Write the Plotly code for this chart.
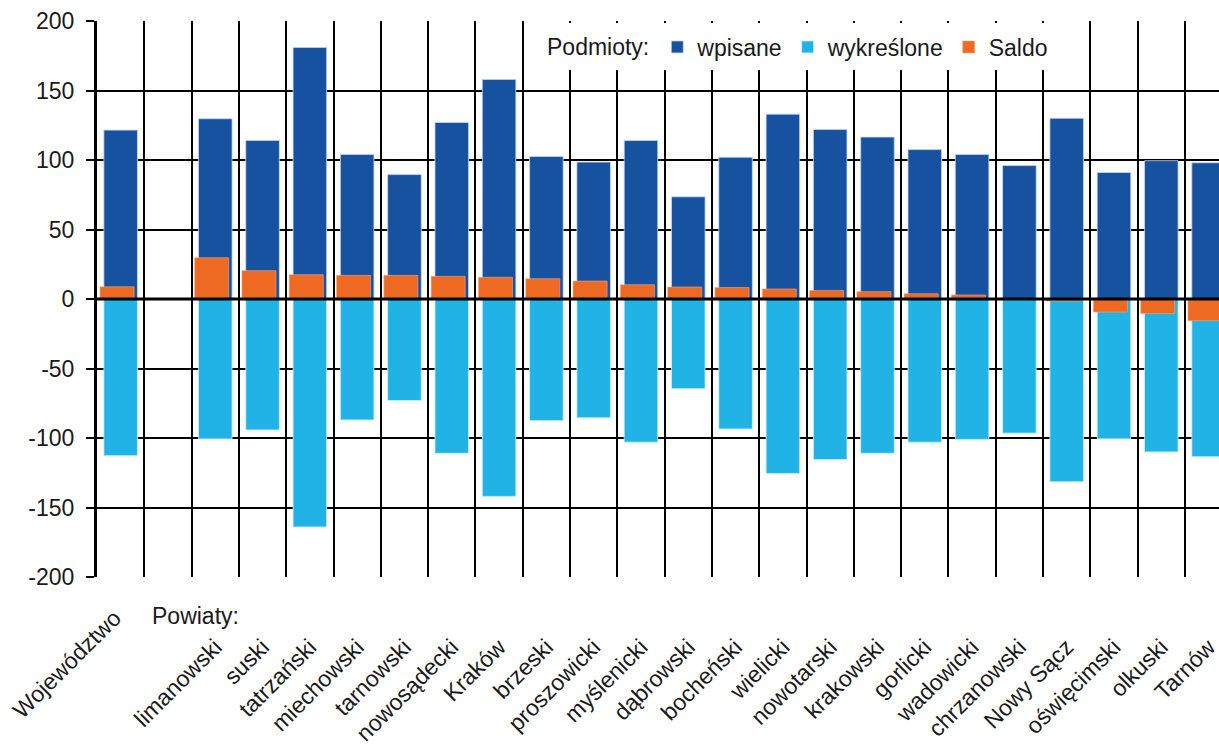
import plotly.graph_objects as go

categories = ["Województwo", " ", "limanowski", "suski", "tatrzański", "miechowski",
              "tarnowski", "nowosądecki", "Kraków", "brzeski", "proszowicki",
              "myślenicki", "dąbrowski", "bocheński", "wielicki", "nowotarski",
              "krakowski", "gorlicki", "wadowicki", "chrzanowski", "Nowy Sącz",
              "oświęcimski", "olkuski", "Tarnów"]

wpisane = [121.5, None, 129.7, 114.1, 181, 104, 89.5, 127, 158, 102.5, 98.5,
           114, 73.5, 102, 133, 122, 116.5, 107.5, 104, 96, 130, 91, 99.5, 98]
wykreslone = [-112.7, None, -100.7, -94.2, -164, -87, -73, -111, -142, -87.5, -85.5,
              -103, -64.5, -93.5, -125.5, -115.5, -111, -103, -101, -96.5, -131.5,
              -100.5, -110, -113.5]
saldo = [8.8, None, 29.7, 20.4, 17.5, 17, 17, 16.3, 15.6, 14.6, 12.9,
         10.3, 8.6, 8.3, 7.2, 6.2, 5.3, 3.8, 2.9, -0.3, -1.5, -9.4, -10.5, -15.6]

tick_labels = [""] + categories[1:]
y_tick_vals = [-200, -150, -100, -50, 0, 50, 100, 150, 200]
y_tick_text = ["-200", "-150", "-100", "-50", "0", "50", "100", "150", "200"]

FONT = "Liberation Sans, Arial, sans-serif"
FS = 23
DARK = "#1652A0"
LIGHT = "#21B2E6"
ORANGE = "#EE6A22"

fig = go.Figure()
fig.add_trace(go.Bar(x=categories, y=wpisane, name="wpisane", width=0.71, offset=-0.355,
                     marker=dict(color=DARK, line=dict(color="rgba(200,215,235,0.8)", width=1))))
fig.add_trace(go.Bar(x=categories, y=wykreslone, name="wykreślone", width=0.71, offset=-0.355,
                     marker=dict(color=LIGHT, line=dict(color="rgba(210,240,250,0.8)", width=1))))
fig.add_trace(go.Bar(x=categories, y=saldo, name="Saldo", width=0.72, offset=-0.436,
                     marker=dict(color=ORANGE, line=dict(color="rgba(240,170,130,0.6)", width=1))))

fig.update_layout(
    width=1219, height=747,
    barmode="overlay",
    plot_bgcolor="white", paper_bgcolor="white",
    margin=dict(l=97, r=0, t=21, b=170, autoexpand=False),
    font=dict(family=FONT, size=FS, color="#1a1a1a"),
    showlegend=True,
    legend=dict(orientation="h", x=(545 - 97) / 1122, xanchor="left",
                y=1 - (47 - 21) / 556, yanchor="middle",
                bgcolor="rgba(0,0,0,0)", font=dict(size=FS, family=FONT),
                title=dict(text="Podmioty:", side="left", font=dict(size=FS, family=FONT)),
                traceorder="normal"),
    xaxis=dict(type="category", range=[-0.5, 23.22], tickson="boundaries",
               showgrid=True, gridcolor="black", gridwidth=1.8,
               ticks="", tickangle=-45, tickmode="array",
               tickvals=categories, ticktext=tick_labels,
               ticklabelstandoff=51, showline=False, automargin=False,
               tickfont=dict(size=FS, family=FONT)),
    yaxis=dict(range=[-200, 200], tickmode="array", tickvals=y_tick_vals, ticktext=y_tick_text,
               showgrid=True, gridcolor="black",
               gridwidth=1.8, zeroline=False, showline=True, linecolor="black", linewidth=3,
               ticks="outside", ticklen=8, tickwidth=1.8, tickcolor="black",
               ticklabelstandoff=7, automargin=False,
               tickfont=dict(size=FS, family=FONT)),
    shapes=[
        dict(type="rect", xref="paper", yref="paper",
             x0=(524 - 97) / 1122, x1=(1087 - 97) / 1122,
             y0=1 - (70 - 21) / 556, y1=1 - (23 - 21) / 556,
             fillcolor="white", line=dict(width=0), layer="above"),
        dict(type="line", xref="paper", yref="y", x0=0, x1=1, y0=0, y1=0,
             line=dict(color="black", width=3), layer="above"),
    ],
    annotations=[
        dict(text="Województwo", xref="x", x=categories[0], yref="paper", y=0,
             xanchor="right", yanchor="top", textangle=-45, showarrow=False,
             yshift=-25, xshift=8, font=dict(size=FS, family=FONT)),
        dict(text="Powiaty:", xref="paper", x=(150 - 97) / 1122, yref="paper", y=0,
             xanchor="left", yanchor="middle", yshift=-39, showarrow=False,
             font=dict(size=FS, family=FONT)),
    ],
)

fig.write_html("out.html", config={"displayModeBar": False},
               post_script="document.body.style.margin='0';")
